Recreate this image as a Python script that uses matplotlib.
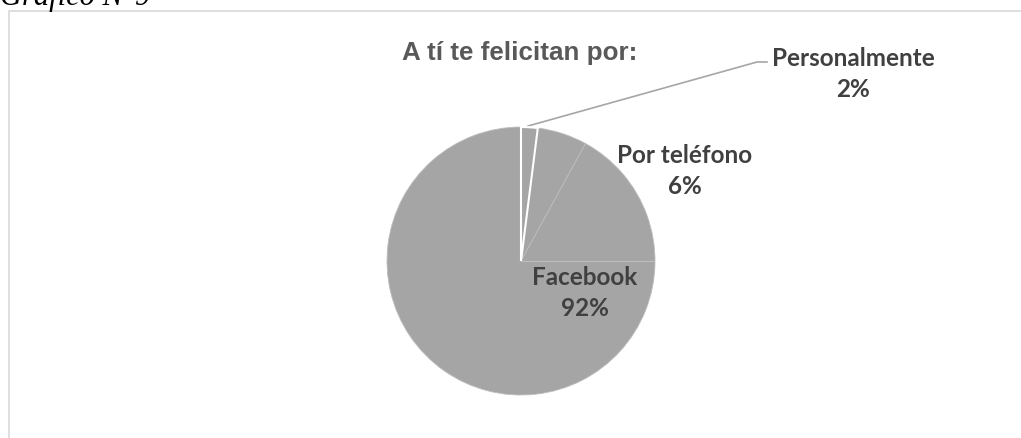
import matplotlib
matplotlib.use("Agg")
import matplotlib.pyplot as plt
from matplotlib.patches import Rectangle

categories = ["Personalmente", "Por teléfono", "Facebook"]
values = [2, 6, 92]
pct_labels = ["2%", "6%", "92%"]

W, H = 1021, 439
fig = plt.figure(figsize=(W / 100, H / 100), dpi=100)
fig.patch.set_facecolor("white")

# outer chart border (extends past right/bottom edges)
fig.patches.append(Rectangle((8.5 / W, -0.1), 1.2, 1.1 - 12.5 / H,
                             transform=fig.transFigure, fill=False,
                             edgecolor="#D9D9D9", linewidth=1.2))

fig.text(0.0, 1 - 5 / H, "Gráfico N°9", family="Liberation Serif", style="italic",
         fontsize=22, ha="left", va="baseline", color="black")

cx, cy, r = 521, 262, 134
ax = fig.add_axes([(cx - r) / W, (H - cy - r) / H, 2 * r / W, 2 * r / H])

wedges, _ = ax.pie(values, startangle=90, counterclock=False, radius=1,
                   colors=["#A5A5A5"] * len(values),
                   wedgeprops=dict(edgecolor="#BDBDBD", linewidth=0.6))
wedges[0].set_edgecolor("white")
wedges[0].set_linewidth(1.5)
wedges[0].set_zorder(3)
ax.set_xlim(-1, 1)
ax.set_ylim(-1, 1)
ax.set_aspect("equal")
ax.axis("off")
# faint line at 3 o'clock seen in the reference
ax.plot([0, 1], [0, 0], color="#BDBDBD", lw=0.8, zorder=2)

fig.text(637 / W, 1 - 53 / H, "A tí te felicitan por:", family="Liberation Sans",
         weight="bold", fontsize=18.7, color="#595959", ha="right", va="center")

def d(px, py):
    return ((px - cx) / r, (cy - py) / r)

lab_font = dict(family="Lato", weight="bold", fontsize=17.5, color="#404040",
                ha="center", va="center", linespacing=1.45)

# Personalmente with leader line
ax.plot(*zip(d(528, 127), d(757, 63), d(767, 63)), color="#A6A6A6", lw=1.2,
        clip_on=False)
ax.text(*d(853, 74), f"{categories[0]}\n{pct_labels[0]}", clip_on=False, **lab_font)
ax.text(*d(685, 171), f"{categories[1]}\n{pct_labels[1]}", clip_on=False, **lab_font)
ax.text(*d(585, 293), f"{categories[2]}\n{pct_labels[2]}", clip_on=False, **lab_font)

fig.savefig("out.png", dpi=100, facecolor="white")
